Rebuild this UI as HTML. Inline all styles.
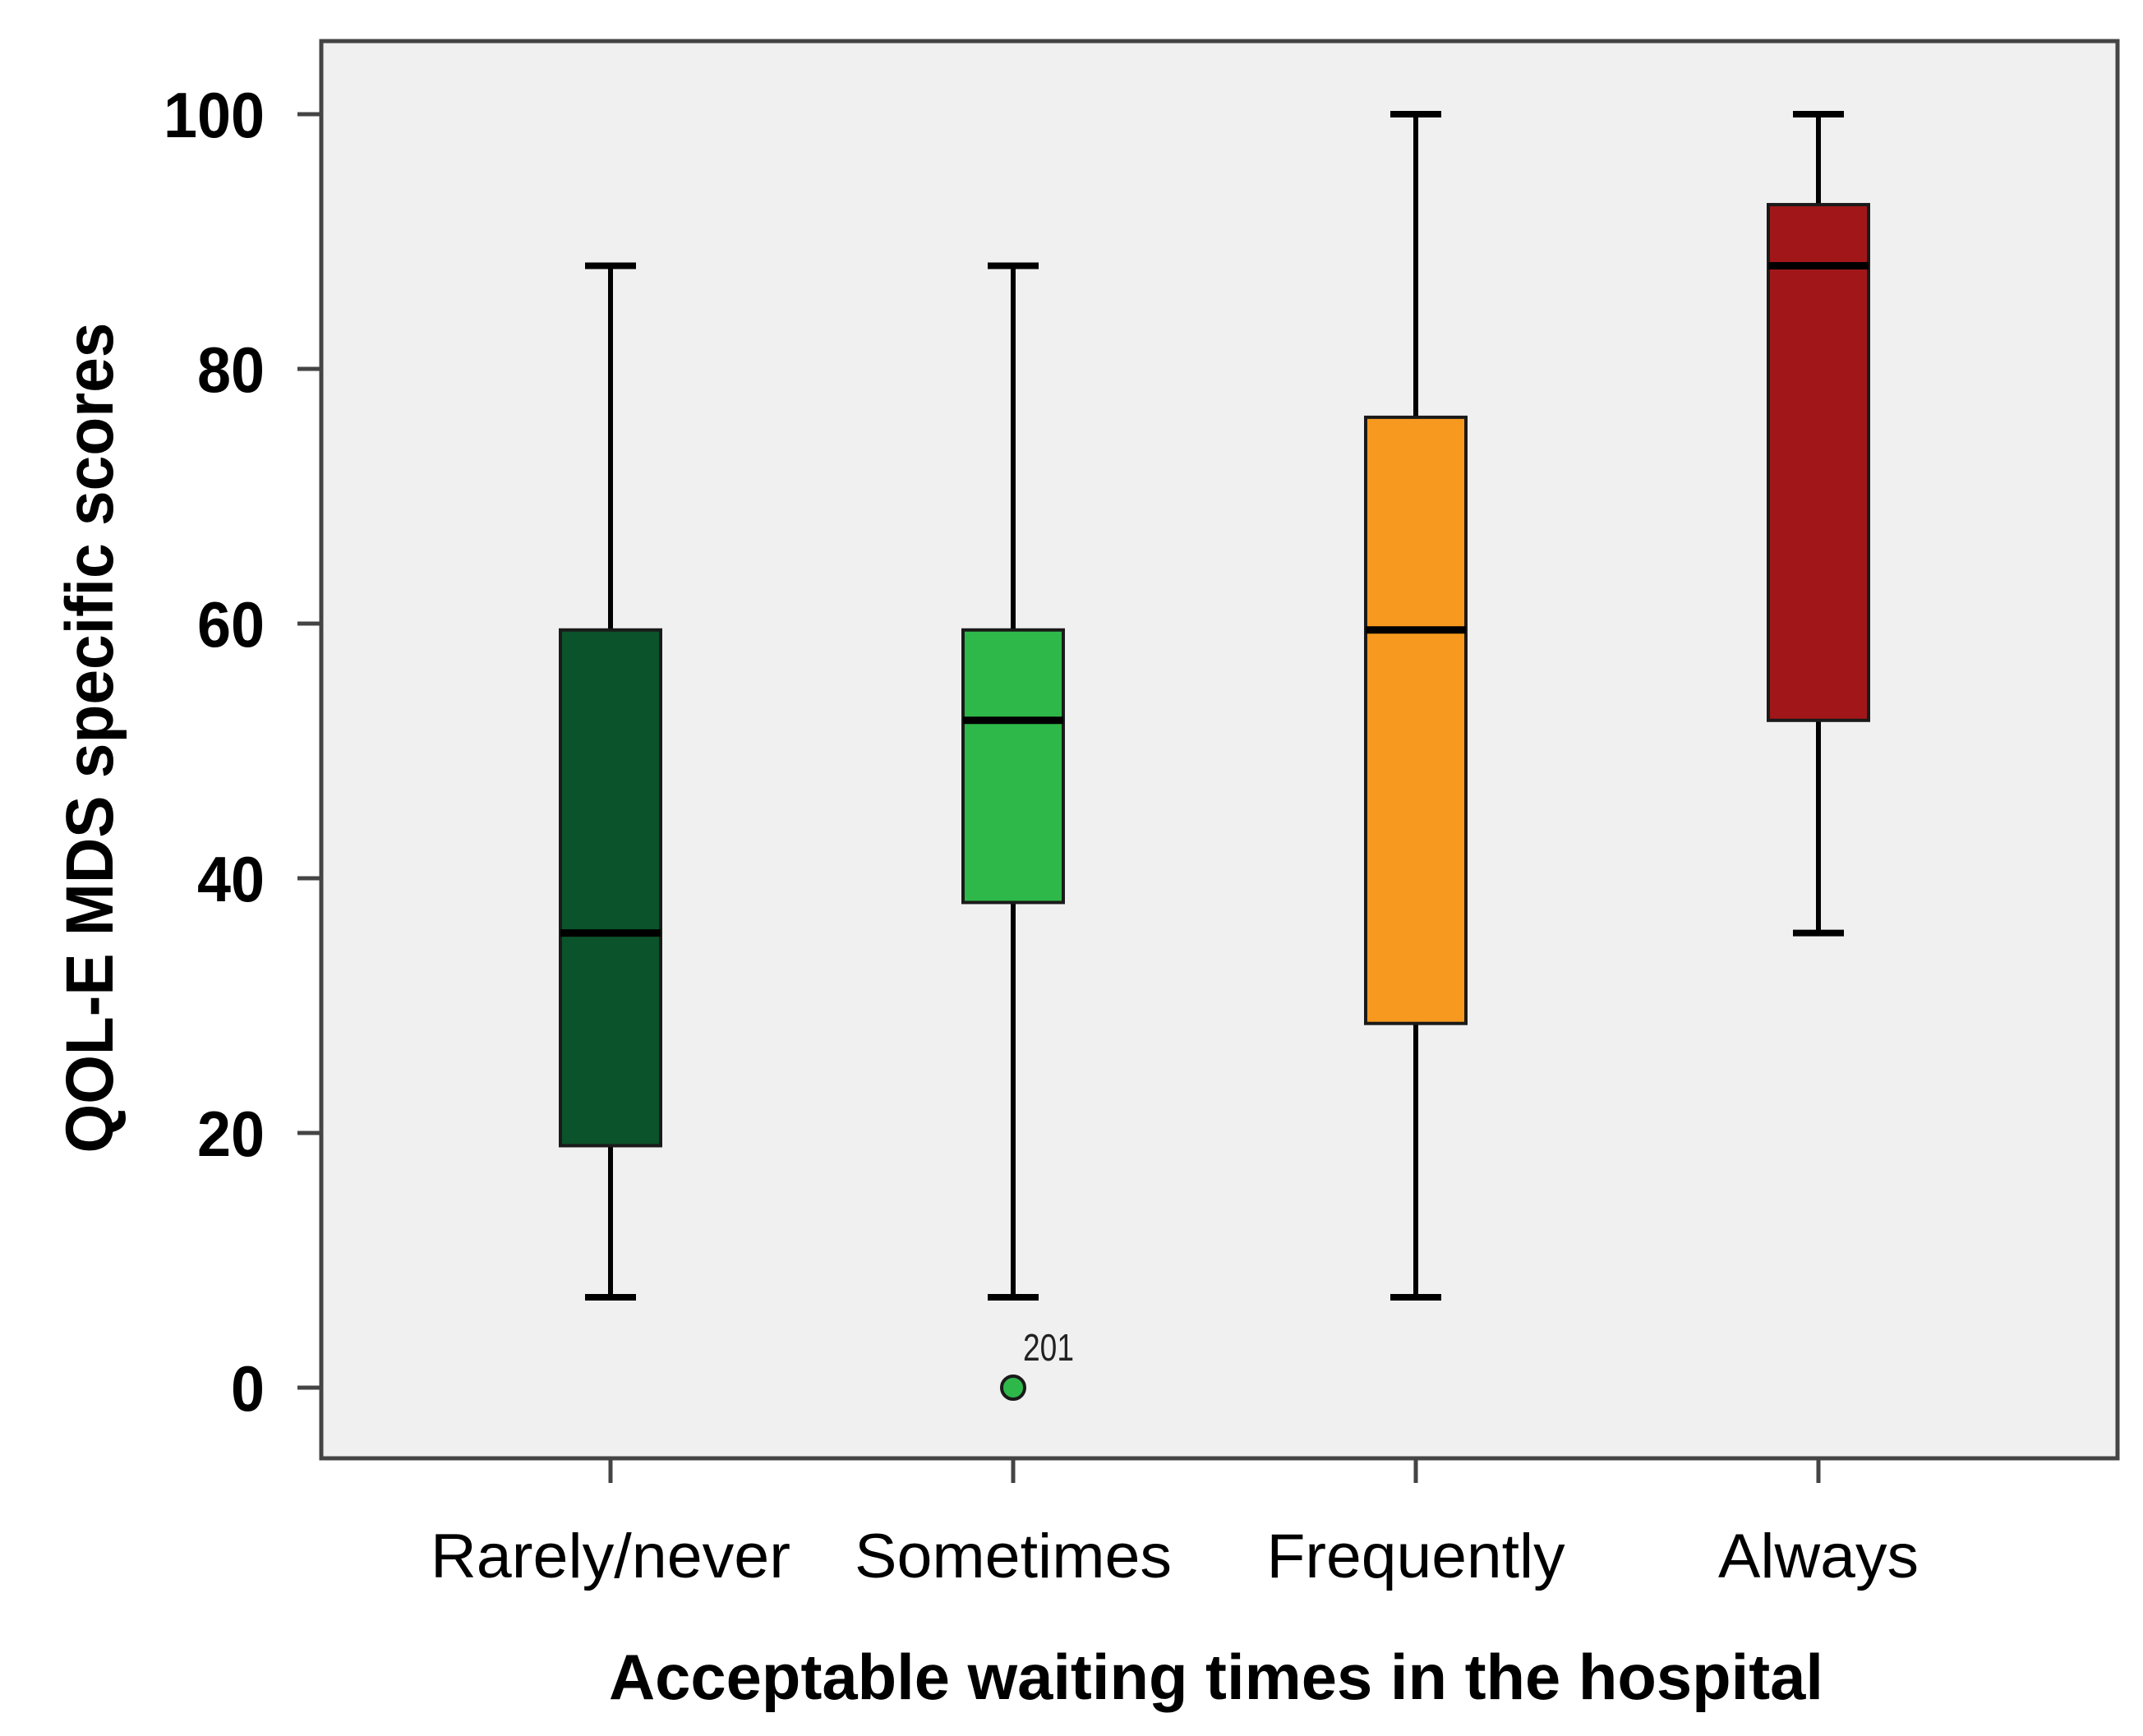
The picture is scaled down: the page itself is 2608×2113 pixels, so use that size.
<!DOCTYPE html>
<html><head><meta charset="utf-8"><style>
html,body{margin:0;padding:0;background:#fff;}
svg{display:block;font-family:"Liberation Sans",Arial,sans-serif;}
</style></head><body>
<svg id="chart" width="2608" height="2113" viewBox="0 0 2608 2113" xmlns="http://www.w3.org/2000/svg">
<rect x="391" y="50" width="2186" height="1725" fill="#f0f0f0" stroke="#444" stroke-width="5"/>
<g id="yaxis"></g>
<g id="xaxis"></g>
<g id="boxes"></g>
<text transform="translate(137,898) rotate(-90)" text-anchor="middle" font-size="82" font-weight="bold" textLength="1011" lengthAdjust="spacingAndGlyphs">QOL-E MDS specific scores</text>
<text x="1480" y="2068" text-anchor="middle" font-size="78" font-weight="bold" textLength="1478" lengthAdjust="spacingAndGlyphs">Acceptable waiting times in the hospital</text>
</svg>
<script>
const categories = ["Rarely/never","Sometimes","Frequently","Always"];
const mins = [7.1, 7.1, 7.1, 35.7];
const q1s = [19.0, 38.1, 28.6, 52.4];
const medians = [35.7, 52.4, 59.5, 88.1];
const q3s = [59.5, 59.5, 76.2, 92.9];
const maxs = [88.1, 88.1, 100, 100];
const outlierCats = [1];
const outlierVals = [0];
const outlierLabels = ["201"];
const yTicks = [0, 20, 40, 60, 80, 100];
const colors = ["#0b532b","#2fb84a","#f7991f","#a11719"];
const labelWidths = [438, 386, 363, 244];

const NS = "http://www.w3.org/2000/svg";
function y(v){ return 1689 - v * 15.5; }
function x(i){ return 743 + i * 490; }
function mk(tag, attrs, parent){
  const e = document.createElementNS(NS, tag);
  for (const k in attrs) e.setAttribute(k, attrs[k]);
  parent.appendChild(e); return e;
}
const ya = document.getElementById('yaxis');
yTicks.forEach(t => {
  const l = mk('line', {x1:362, x2:391, y1:y(t), y2:y(t), stroke:'#444', 'stroke-width':5}, ya);
  
  
  const s = String(t);
  const tx = mk('text', {x:322, y:y(t)+28, 'text-anchor':'end', 'font-size':78, 'font-weight':'bold', textLength:s.length*41, lengthAdjust:'spacingAndGlyphs'}, ya);
  tx.textContent = s;
  
  
});
const xa = document.getElementById('xaxis');
categories.forEach((c, i) => {
  const l = mk('line', {x1:x(i), x2:x(i), y1:1775, y2:1805, stroke:'#444', 'stroke-width':5}, xa);
  
  
  const tx = mk('text', {x:x(i), y:1920, 'text-anchor':'middle', 'font-size':76, textLength:labelWidths[i], lengthAdjust:'spacingAndGlyphs'}, xa);
  tx.textContent = c;
  
  
});
const bx = document.getElementById('boxes');
categories.forEach((c, i) => {
  const g = mk('g', {}, bx);
  
  
  const cx = x(i);
  const w1 = mk('line', {x1:cx, x2:cx, y1:y(maxs[i]), y2:y(q3s[i]), stroke:'#000', 'stroke-width':6}, g);
  
  
  const w2 = mk('line', {x1:cx, x2:cx, y1:y(q1s[i]), y2:y(mins[i]), stroke:'#000', 'stroke-width':6}, g);
  
  
  const c1 = mk('line', {x1:cx-31, x2:cx+31, y1:y(maxs[i]), y2:y(maxs[i]), stroke:'#000', 'stroke-width':8}, g);
  
  
  const c2 = mk('line', {x1:cx-31, x2:cx+31, y1:y(mins[i]), y2:y(mins[i]), stroke:'#000', 'stroke-width':8}, g);
  
  
  const r = mk('rect', {x:cx-61, y:y(q3s[i]), width:122, height:y(q1s[i])-y(q3s[i]), fill:colors[i], stroke:'#1a1a1a', 'stroke-width':4}, g);
  
  
  const m = mk('line', {x1:cx-61, x2:cx+61, y1:y(medians[i]), y2:y(medians[i]), stroke:'#000', 'stroke-width':9}, g);
  
  
});
outlierCats.forEach((ci, k) => {
  const p = mk('circle', {cx:x(ci), cy:y(outlierVals[k]), r:14, fill:colors[ci], stroke:'#1a1a1a', 'stroke-width':4}, bx);
  
  
  const t = mk('text', {x:x(ci)+12, y:y(outlierVals[k])-33, 'font-size':46, fill:'#222', textLength:62, lengthAdjust:'spacingAndGlyphs'}, bx);
  t.textContent = outlierLabels[k];
  
  
});
</script>
</body></html>
